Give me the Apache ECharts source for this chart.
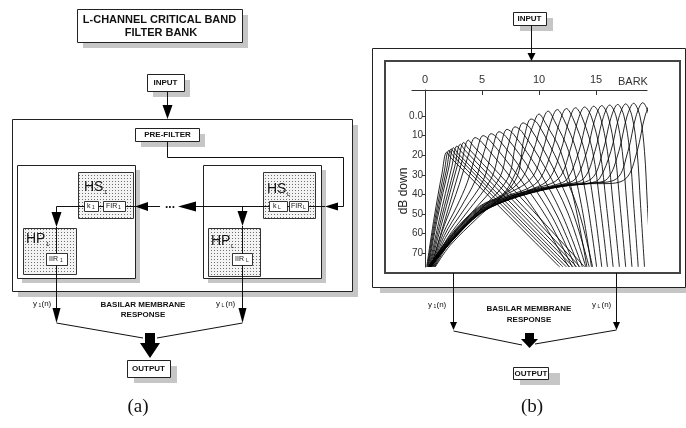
<!DOCTYPE html>
<html><head><meta charset="utf-8">
<script src="https://cdn.jsdelivr.net/npm/echarts@6/dist/echarts.min.js"></script>
<style>html,body{margin:0;padding:0;background:#fff}#c{width:686px;height:428px}</style>
</head><body><div id="c"></div>
<script>
// ---------- data (bark, dB down) ----------
const barkTicks = [0, 5, 10, 15];
const barkTickMarks = [5, 10, 15];
const dbTicks = [0, 10, 20, 30, 40, 50, 60, 70];
const dbTickLabels = ['0.0', '10', '20', '30', '40', '50', '60', '70'];

// low-frequency filters: steep low side, gentle high side
const lowBandCurves = [
  [[0.15,77],[0.8,52],[1.5,29],[1.9,18.5],[2.3,21.5],[7.0,49],[11.8,77]],
  [[0.2,77],[0.9,52],[1.7,28],[2.1,17.5],[2.5,20.5],[7.3,48.8],[12.1,77]],
  [[0.25,77],[1.0,52],[1.9,27],[2.3,16.8],[2.7,19.8],[7.5,48.1],[12.4,77]],
  [[0.3,77],[1.1,52],[2.1,26],[2.5,16.2],[2.9,19.2],[7.8,48.1],[12.7,77]],
  [[0.35,77],[1.25,53],[2.35,26],[2.8,15.3],[3.2,18.3],[8.1,47.7],[13.0,77]],
  [[0.4,77],[1.4,53],[2.6,26],[3.1,14.4],[3.5,17.4],[8.4,47.2],[13.3,77]],
  [[0.45,77],[1.55,53],[2.85,25],[3.4,13.5],[3.8,16.5],[8.7,46.7],[13.6,77]],
  [[0.5,77],[1.7,54],[3.2,24],[3.8,12.3],[4.2,15],[9.1,46],[14.0,77]]
];
// mid-frequency filters
const midBandCurves = [
  [[0.55,77],[1.5,59],[2.4,45],[3.0,35],[3.8,20],[4.4,11],[5.0,13.5],[7.6,32],[10.3,54],[12.6,77]],
  [[0.6,77],[1.6,60],[2.8,46],[3.7,34],[4.5,19],[5.1,10],[5.7,12.5],[8.2,31],[10.8,53],[12.9,77]],
  [[0.65,77],[1.7,61],[3.1,47],[4.4,33],[5.2,18],[5.8,9],[6.4,11.5],[8.8,30],[11.2,52],[13.2,77]],
  [[0.7,77],[1.8,62],[3.4,48],[5.1,33],[5.9,17],[6.5,8],[7.1,10.5],[9.4,29],[11.6,51],[13.5,77]],
  [[0.75,77],[1.9,63],[3.7,49],[5.8,32],[6.6,16],[7.2,6.8],[7.8,9.5],[10.0,28],[12.0,50],[13.8,77]],
  [[0.8,77],[2.0,64],[4.0,50],[6.5,32],[7.3,15],[7.9,5.5],[8.5,8],[10.6,27],[12.5,49],[14.1,77]],
  [[0.85,77],[2.1,65],[4.3,51],[7.2,32.5],[8.0,13],[8.6,3.5],[9.2,6],[11.2,26],[12.9,48],[14.4,77]],
  [[0.9,77],[2.2,66],[4.6,52],[7.9,33],[8.7,11],[9.3,1.5],[9.9,4],[11.8,25],[13.4,47],[14.7,77]]
];
// high-frequency filters: long shallow tail, sharp upper cut-off
const highBandCurves = [
  [[0.3,77],[2.5,59],[4.8,46],[6.8,40],[7.7,32],[8.7,18],[9.4,6],[10.0,-1],[10.6,4],[11.9,18],[13.15,45],[14.2,77]],
  [[0.3,77],[2.5,59.5],[4.8,46.5],[6.8,40.5],[8.5,32],[9.5,18],[10.2,4.5],[10.8,-2.5],[11.4,3],[12.6,18],[13.7,45],[14.6,77]],
  [[0.3,77],[2.5,60],[4.8,47],[6.8,41],[9.3,32],[10.3,18],[11.0,3.7],[11.6,-3.3],[12.2,2],[13.3,18],[14.25,45],[15.05,77]],
  [[0.35,77],[2.5,60.5],[4.8,47.5],[6.8,41.5],[9.0,37],[10.1,32],[11.1,18],[11.8,3.2],[12.4,-3.8],[13.0,1.5],[14.0,18],[14.8,45],[15.5,77]],
  [[0.35,77],[2.5,61],[4.8,48],[6.8,42],[9.5,37],[10.9,32],[11.9,18],[12.6,2.8],[13.2,-4.2],[13.8,1],[14.7,18],[15.35,45],[16.0,77]],
  [[0.35,77],[2.5,61.3],[4.8,48.3],[6.8,42.3],[9.5,37.3],[11.7,32],[12.7,18],[13.4,2.4],[14.0,-4.6],[14.6,0.5],[15.35,18],[15.9,45],[16.5,77]],
  [[0.4,77],[2.5,61.6],[4.8,48.6],[6.8,42.6],[9.5,37.6],[11.5,35],[12.5,32],[13.5,18],[14.2,2],[14.8,-5],[15.35,0],[16.0,18],[16.5,45],[17.05,77]],
  [[0.4,77],[2.5,61.9],[4.8,48.9],[6.8,42.9],[9.5,37.9],[12.0,34.9],[13.2,32],[14.2,18],[14.9,1.7],[15.5,-5.3],[16.05,0],[16.65,18],[17.1,45],[17.6,77]],
  [[0.4,77],[2.5,62.2],[4.8,49.2],[6.8,43.2],[9.5,38.2],[12.0,35.2],[13.9,32],[14.9,18],[15.6,1.4],[16.2,-5.6],[16.75,0],[17.3,18],[17.7,45],[18.15,77]],
  [[0.45,77],[2.5,62.4],[4.8,49.4],[6.8,43.4],[9.5,38.4],[12.0,35.4],[14.6,32],[15.6,18],[16.3,1.1],[16.9,-5.9],[17.45,0],[17.95,18],[18.3,45],[18.7,77]],
  [[0.45,77],[2.5,62.6],[4.8,49.6],[6.8,43.6],[9.5,38.6],[12.0,35.6],[14.5,34.1],[15.3,32],[16.3,18],[17.0,0.8],[17.6,-6.2],[18.15,0],[18.6,18],[18.9,45],[19.25,77]],
  [[0.5,77],[2.5,62.8],[4.8,49.8],[6.8,43.8],[9.5,38.8],[12.0,35.8],[14.5,34.3],[16.0,32],[17.0,18],[17.7,0.5],[18.3,-6.5],[18.85,0],[19.25,18],[19.5,45],[19.8,77]],
  [[0.5,77],[2.5,62.9],[4.8,49.9],[6.8,43.9],[9.5,38.9],[12.0,35.9],[14.5,34.4],[16.8,32],[17.8,18],[18.5,0.2],[19.1,-6.8],[19.65,0],[20.0,18],[20.2,45],[20.4,77]],
  [[0.5,77],[2.5,63],[4.8,50],[6.8,44],[9.5,39],[12.0,36],[14.5,34.5],[15.6,34.5],[17.6,32],[18.6,18],[19.3,0],[19.9,-7],[20.45,0],[20.75,18],[20.85,45],[20.95,77]]
];

// ---------- drawing ----------
const chart = echarts.init(document.getElementById('c'), null, {renderer: 'canvas'});

const pc = document.createElement('canvas'); pc.width = 3; pc.height = 3;
const pctx = pc.getContext('2d');
pctx.fillStyle = '#f3f3f3'; pctx.fillRect(0, 0, 3, 3);
pctx.fillStyle = '#707070'; pctx.fillRect(1, 1, 1, 1);
const dots = {image: pc, repeat: 'repeat'};

const G = [];
const SH = '#c6c6c6';
function R(x, y, w, h, fill, stroke, lw, z) {
  G.push({type: 'rect', silent: true, z: z === undefined ? 0 : z,
    shape: {x: x, y: y, width: w, height: h},
    style: {fill: fill, stroke: stroke || null, lineWidth: lw || 1}});
}
function L(pts, lw, z) {
  G.push({type: 'polyline', silent: true, z: z === undefined ? 1 : z,
    shape: {points: pts}, style: {stroke: '#111', lineWidth: lw || 1, fill: null}});
}
function P(pts, z) {
  G.push({type: 'polygon', silent: true, z: z === undefined ? 2 : z,
    shape: {points: pts}, style: {fill: '#000'}});
}
function T(x, y, s, o) {
  o = o || {};
  G.push({type: 'text', silent: true, z: 3, x: x, y: y, rotation: o.rot || 0,
    style: {text: s, fontSize: o.size || 8, fontFamily: o.family || 'Liberation Sans',
      fontWeight: o.bold ? 'bold' : 'normal', fill: o.color || '#111',
      align: o.align || 'center', verticalAlign: 'middle'}});
}
function box(x, y, w, h, sx, sy, z) {
  R(x + sx, y + sy, w, h, SH, null, 1, (z || 0) - 1);
  R(x + 0.5, y + 0.5, w, h, '#fff', '#222', 1, z || 0);
}

// ===== (a) =====
box(77, 9, 165, 33, 6, 6);
T(159.5, 20, 'L-CHANNEL CRITICAL BAND', {size: 11, bold: true});
T(161, 33, 'FILTER BANK', {size: 11, bold: true});
box(147, 74, 37, 17, 6, 6);
T(165.5, 83, 'INPUT', {bold: true});
L([[167.5, 91.5], [167.5, 106]]);
P([[162.5, 105], [172.5, 105], [167.5, 119]]);
box(12, 119, 340, 172, 6, 6, -4);
box(135, 128, 64, 13, 6, 6);
T(167.5, 135, 'PRE-FILTER', {bold: true});
L([[167.5, 141.5], [167.5, 157.5], [343.5, 157.5], [343.5, 206.5], [338, 206.5]]);
P([[338, 202.5], [338, 210.5], [325, 206.5]]);
L([[325, 206.5], [308.5, 206.5]]);
// sub boxes
box(17, 165, 118, 113, 5, 5, -2);
box(203, 165, 118, 113, 5, 5, -2);
R(78.5, 172.5, 55, 46, dots, '#333', 1, 0);
R(23.5, 228.5, 53, 46, dots, '#333', 1, 0);
R(263.5, 172.5, 52, 46, dots, '#333', 1, 0);
R(208.5, 228.5, 52, 48, dots, '#333', 1, 0);
R(84.5, 201.5, 14, 10, '#fff', '#333', 1, 1);
R(103.5, 201.5, 22, 10, '#fff', '#333', 1, 1);
R(269.5, 201.5, 18, 10, '#fff', '#333', 1, 1);
R(289.5, 201.5, 19, 10, '#fff', '#333', 1, 1);
R(46.5, 253.5, 21, 12, '#fff', '#333', 1, 1);
R(232.5, 253.5, 20, 12, '#fff', '#333', 1, 1);
L([[98.5, 206.5], [103.5, 206.5]]);
L([[287.5, 206.5], [289.5, 206.5]]);
// left path
L([[84.5, 206.5], [56.5, 206.5], [56.5, 212]]);
P([[51.5, 212], [61.5, 212], [56.5, 227]]);
L([[56.5, 227], [56.5, 253.5]]);
L([[56.5, 265.5], [56.5, 309]]);
P([[52.5, 308], [60.5, 308], [56.5, 323]]);
// horizontal chain
L([[125.5, 206.5], [135, 206.5]]);
P([[148, 202], [148, 211], [135, 206.5]]);
L([[148, 206.5], [160, 206.5]]);
T(170, 205, '...', {size: 12, bold: true});
P([[196, 201.5], [196, 211.5], [178, 206.5]]);
L([[196, 206.5], [269.5, 206.5]]);
// right path
L([[242.5, 206.5], [242.5, 212]]);
P([[237.5, 211], [247.5, 211], [242.5, 226]]);
L([[242.5, 226], [242.5, 253.5]]);
L([[242.5, 265.5], [242.5, 309]]);
P([[238.5, 308], [246.5, 308], [242.5, 323]]);
// labels in blocks
T(84, 187, 'HS', {size: 14, align: 'left'}); T(104, 192, '1', {size: 6, align: 'left'});
T(26, 239, 'HP', {size: 14, align: 'left'}); T(46, 244, '1', {size: 6, align: 'left'});
T(267, 189, 'HS', {size: 14, align: 'left'}); T(287, 194, 'L', {size: 6, align: 'left'});
T(211, 241, 'HP', {size: 14, align: 'left'}); T(231, 246, 'L', {size: 6, align: 'left'});
T(87, 206, 'k', {size: 7, align: 'left'}); T(92, 208, '1', {size: 5, align: 'left'});
T(106, 206, 'FIR', {size: 7, align: 'left'}); T(118, 208, '1', {size: 5, align: 'left'});
T(273, 206, 'k', {size: 7, align: 'left'}); T(278, 208, 'L', {size: 5, align: 'left'});
T(291, 206, 'FIR', {size: 7, align: 'left'}); T(303, 208, 'L', {size: 5, align: 'left'});
T(49, 259, 'IIR', {size: 7, align: 'left'}); T(60, 261, '1', {size: 5, align: 'left'});
T(235, 259, 'IIR', {size: 7, align: 'left'}); T(246, 261, 'L', {size: 5, align: 'left'});
// outputs
T(33, 304, 'y', {size: 8, align: 'left'}); T(38.5, 306, '1', {size: 5, align: 'left'}); T(41.5, 304, '(n)', {size: 8, align: 'left'});
T(216, 304, 'y', {size: 8, align: 'left'}); T(221.5, 306, 'L', {size: 5, align: 'left'}); T(225.5, 304, '(n)', {size: 8, align: 'left'});
T(143, 305, 'BASILAR MEMBRANE', {bold: true});
T(143, 315, 'RESPONSE', {bold: true});
L([[56.5, 323], [143, 338]]);
L([[242.5, 323], [157, 338]]);
P([[145, 333], [155, 333], [155, 343], [160, 343], [150, 358], [140, 343], [145, 343]]);
box(127, 360, 43, 17, 7, 6);
T(148.5, 369, 'OUTPUT', {bold: true});
T(138, 407, '(a)', {size: 19, family: 'Liberation Serif'});

// ===== (b) =====
box(513, 12, 33, 13, 7, 6);
T(529.5, 19, 'INPUT', {bold: true});
L([[531.5, 25.5], [531.5, 53]]);
P([[527.5, 53], [535.5, 53], [531.5, 61]]);
box(372, 48, 313, 239, 8, 6, -4);
R(385, 61, 295, 212, '#fff', '#444', 2, -2);
L([[453.5, 273], [453.5, 322]]);
P([[450, 322], [457, 322], [453.5, 330]]);
L([[616.5, 273], [616.5, 322]]);
P([[613, 322], [620, 322], [616.5, 330]]);
T(428, 305, 'y', {size: 8, align: 'left'}); T(433.5, 307, '1', {size: 5, align: 'left'}); T(436.5, 305, '(n)', {size: 8, align: 'left'});
T(592, 305, 'y', {size: 8, align: 'left'}); T(597.5, 307, 'L', {size: 5, align: 'left'}); T(601.5, 305, '(n)', {size: 8, align: 'left'});
T(529, 309, 'BASILAR MEMBRANE', {bold: true});
T(529, 320, 'RESPONSE', {bold: true});
L([[453.5, 331], [522, 345]]);
L([[616.5, 330], [535, 344]]);
P([[525, 333], [534, 333], [534, 339], [538, 339], [529.5, 348], [521, 339], [525, 339]]);
R(520, 373, 40, 12, SH, null, 1, -1);
R(513.5, 367.5, 35, 12, '#fff', '#222', 1, 0);
T(531, 374, 'OUTPUT', {bold: true});
T(532, 407, '(b)', {size: 19, family: 'Liberation Serif'});
// plot annotations
T(618, 82, 'BARK', {size: 11, align: 'left', color: '#333'});
T(404, 191, 'dB down', {size: 12, rot: Math.PI / 2, color: '#222'});

const allCurves = lowBandCurves.concat(midBandCurves, highBandCurves);
const series = allCurves.map(function (c) {
  return {type: 'line', data: c, smooth: 0.35, symbol: 'none', showSymbol: false,
    clip: false, silent: true, animation: false,
    lineStyle: {color: '#000', width: 0.85}};
});

chart.setOption({
  animation: false,
  backgroundColor: '#fff',
  grid: {left: 412, top: 90, width: 235, height: 177, outerBoundsMode: 'none', containLabel: false},
  xAxis: {
    type: 'value', position: 'top', min: -1.14, max: 19.47,
    axisLine: {onZero: false, lineStyle: {color: '#333', width: 1.2}},
    axisTick: {show: true, inside: true, length: 5, customValues: barkTickMarks, lineStyle: {color: '#333'}},
    axisLabel: {customValues: barkTicks, color: '#333', fontSize: 11, margin: 5, fontFamily: 'Liberation Sans'},
    splitLine: {show: false}
  },
  yAxis: {
    type: 'value', inverse: true, min: -13.27, max: 77.04, offset: -13,
    axisLine: {show: true, onZero: false, lineStyle: {color: '#333', width: 1}},
    axisTick: {show: true, length: 3, customValues: dbTicks, lineStyle: {color: '#333'}},
    axisLabel: {customValues: dbTicks, color: '#333', fontSize: 10, margin: 2, fontFamily: 'Liberation Sans',
      formatter: function (v) { const i = dbTicks.indexOf(v); return i >= 0 ? dbTickLabels[i] : ''; }},
    splitLine: {show: false}
  },
  graphic: {elements: G},
  series: series
});
</script>
</body></html>
